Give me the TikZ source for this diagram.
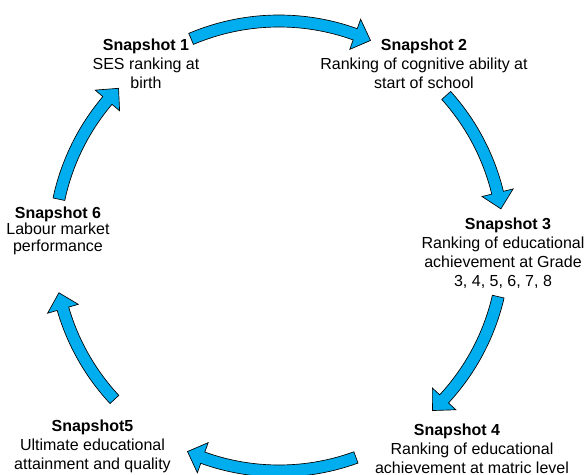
\documentclass[tikz,border=0pt]{standalone}
\usepackage{fontspec}
\setmainfont{Liberation Sans}
\definecolor{cyclecyan}{RGB}{0,174,239}

\begin{document}
\begin{tikzpicture}[
    x=0.75pt,y=0.75pt,
    snap/.style={align=center,inner sep=0pt,font=\fontsize{12}{14.25}\selectfont},
    cyclearr/.style={fill=cyclecyan,draw=black,line width=0.5pt,line join=miter}
    ]
    \useasboundingbox (-279,-229) rectangle (307,246);
    \foreach \T/\H in {113/66,42/9.5,-13/-47,-70/-114,223/192,168/135.5}
    {\draw[cyclearr] (\T:231) arc[start angle=\T,end angle=\H+4.2,radius=231]
        -- ({\H+4.2}:241) -- (\H:225) -- ({\H+4.2}:209) -- ({\H+4.2}:219)
        arc[start angle=\H+4.2,end angle=\T,radius=219] -- cycle;}
    \node[snap] (snap1) at (-133,182) {\textbf{Snapshot 1}\\SES ranking at\\birth};
    \node[snap] (snap2) at (145,182.5) {\textbf{Snapshot 2}\\Ranking of cognitive ability at\\start of school};
    \node[snap] (snap3) at (224,-7) {\hspace*{7.5pt}\textbf{Snapshot 3}\\Ranking of educational\\achievement at Grade\\3, 4, 5, 6, 7, 8};
    \node[snap] (snap4) at (193,-202.5) {\textbf{Snapshot 4}\hspace*{22.5pt}\\Ranking of educational\\achievement at matric level};
    \node[snap] (snap5) at (-186.5,-200) {\textbf{Snapshot5}\\Ultimate educational\\attainment and quality};
    \node[snap,font=\fontsize{12}{12.4}\selectfont] (snap6) at (-221,15.5) {\textbf{Snapshot 6}\\Labour market\\performance};
\end{tikzpicture}
\end{document}
